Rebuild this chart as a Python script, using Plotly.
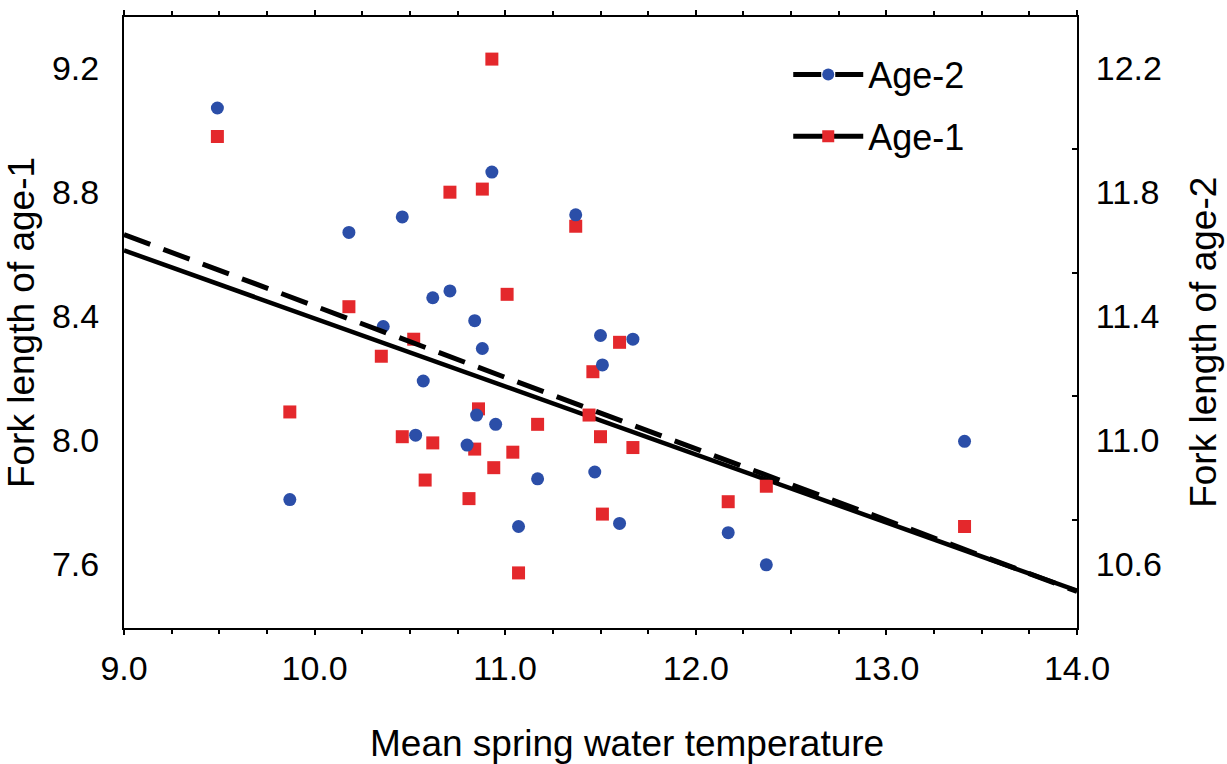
import plotly.graph_objects as go

# ---- data ----
# Age-1 (red squares, left axis)
age1_temp = [9.49, 9.87, 10.18, 10.35, 10.46, 10.52, 10.58, 10.62, 10.71, 10.81,
             10.84, 10.86, 10.88, 10.93, 10.94, 11.01, 11.04, 11.07, 11.17, 11.37,
             11.44, 11.46, 11.50, 11.51, 11.60, 11.67, 12.17, 12.37, 13.41]
age1_len = [8.98, 8.09, 8.43, 8.27, 8.01, 8.325, 7.87, 7.99, 8.80, 7.81,
            7.97, 8.10, 8.81, 9.23, 7.91, 8.47, 7.96, 7.57, 8.05, 8.69,
            8.08, 8.22, 8.01, 7.76, 8.315, 7.975, 7.80, 7.85, 7.72]

# Age-2 (blue circles, right axis)
age2_temp = [9.49, 9.87, 10.18, 10.36, 10.46, 10.53, 10.57, 10.62, 10.71, 10.80,
             10.84, 10.85, 10.88, 10.93, 10.95, 11.07, 11.17, 11.37, 11.47, 11.50,
             11.51, 11.60, 11.67, 12.17, 12.37, 13.41]
age2_len = [12.072, 10.807, 11.67, 11.366, 11.72, 11.015, 11.19, 11.459, 11.481, 10.983,
            11.385, 11.08, 11.295, 11.865, 11.05, 10.72, 10.874, 11.727, 10.896, 11.337,
            11.242, 10.73, 11.325, 10.70, 10.596, 10.995]

# regression lines (end points)
fit_temp = [9.0, 14.0]
age1_fit = [8.612, 7.513]
age2_fit = [11.663, 10.510]

# ticks
x_tickvals = [9, 10, 11, 12, 13, 14]
x_ticktext = ["9.0", "10.0", "11.0", "12.0", "13.0", "14.0"]
y1_tickvals = [7.6, 8.0, 8.4, 8.8, 9.2]
y1_ticktext = ["7.6", "8.0", "8.4", "8.8", "9.2"]
y2_tickvals = [10.6, 11.0, 11.4, 11.8, 12.2]
y2_ticktext = ["10.6", "11.0", "11.4", "11.8", "12.2"]
y2_minor_ticks = [10.74, 11.14, 11.54, 11.94]

x_title = "Mean spring water temperature"
y1_title = "Fork length of age-1"
y2_title = "Fork length of age-2"

BLUE = "#2B4EA8"
RED = "#E4282C"
FONT = "Liberation Sans, Arial, sans-serif"
HIDDEN = 0.01  # on-plot marker size for the fit lines (legend uses constant size)

fig = go.Figure()

fig.add_trace(go.Scatter(
    x=age2_temp, y=age2_len, yaxis="y2", mode="markers",
    marker=dict(symbol="circle", size=13, color=BLUE),
    legendgroup="a2", showlegend=False, cliponaxis=False))
fig.add_trace(go.Scatter(
    x=fit_temp, y=age2_fit, yaxis="y2", mode="lines+markers", name="Age-2",
    line=dict(color="black", width=5, dash="28px,14px"),
    marker=dict(symbol="circle", size=HIDDEN, color=BLUE),
    legendgroup="a2", hoverinfo="skip"))
fig.add_trace(go.Scatter(
    x=fit_temp, y=age1_fit, mode="lines+markers", name="Age-1",
    line=dict(color="black", width=4.5),
    marker=dict(symbol="square", size=HIDDEN, color=RED),
    legendgroup="a1", hoverinfo="skip"))
fig.add_trace(go.Scatter(
    x=age1_temp, y=age1_len, mode="markers",
    marker=dict(symbol="square", size=13, color=RED),
    legendgroup="a1", showlegend=False, cliponaxis=False))

fig.update_layout(
    width=1227, height=764, autosize=False,
    margin=dict(l=124, r=150, t=10, b=136),
    paper_bgcolor="white", plot_bgcolor="white",
    font=dict(family=FONT, color="black"),
    showlegend=True,
    legend=dict(
        x=0.697, y=0.955, xanchor="left", yanchor="top",
        bgcolor="rgba(0,0,0,0)", borderwidth=0,
        font=dict(size=36, family=FONT),
        itemsizing="constant", itemwidth=70,
        traceorder="grouped", tracegroupgap=12,
    ),
    xaxis=dict(
        range=[9, 14], tickmode="array", tickvals=x_tickvals, ticktext=x_ticktext,
        ticks="outside", ticklen=5, tickwidth=2, tickcolor="black",
        minor=dict(dtick=0.25, tick0=9, ticks="outside", ticklen=4, tickwidth=1.5, tickcolor="black"),
        showline=True, linewidth=2, linecolor="black", mirror="ticks",
        showgrid=False, zeroline=False,
        tickfont=dict(size=34, family=FONT),
        ticklabelstandoff=4,
    ),
    yaxis=dict(
        range=[7.392, 9.366], tickmode="array", tickvals=y1_tickvals, ticktext=y1_ticktext,
        ticks="", showline=True, linewidth=2, linecolor="black",
        showgrid=False, zeroline=False,
        tickfont=dict(size=34, family=FONT),
        ticklabelstandoff=16,
        title=dict(text=y1_title, font=dict(size=37, family=FONT), standoff=6),
    ),
    yaxis2=dict(
        range=[10.392, 12.366], overlaying="y", side="right",
        tickmode="array", tickvals=y2_tickvals, ticktext=y2_ticktext,
        ticks="",
        minor=dict(tickmode="array", tickvals=y2_minor_ticks, ticks="inside", ticklen=5, tickwidth=1.5, tickcolor="black"),
        showline=True, linewidth=2, linecolor="black",
        showgrid=False, zeroline=False,
        tickfont=dict(size=34, family=FONT),
        ticklabelstandoff=10,
    ),
    annotations=[
        dict(text=x_title, xref="paper", yref="paper", x=0.528, y=-0.189,
             xanchor="center", yanchor="middle", showarrow=False,
             font=dict(size=37, family=FONT, color="black")),
        dict(text=y2_title, xref="paper", yref="paper", x=1.132, y=0.468,
             xanchor="center", yanchor="middle", showarrow=False, textangle=-90,
             font=dict(size=37, family=FONT, color="black")),
    ],
)

fig.write_html("out.html")
